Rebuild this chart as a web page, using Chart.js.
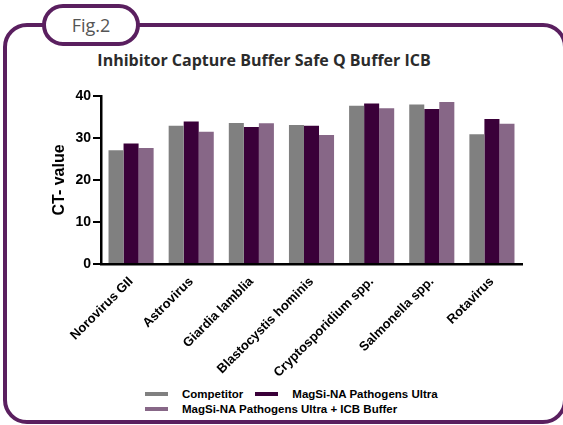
<!DOCTYPE html>
<html>
<head>
<meta charset="utf-8">
<script src="https://cdn.jsdelivr.net/npm/chart.js@4"></script>
<style>
  body { margin: 0; width: 563px; height: 425px; background: #fff; overflow: hidden; position: relative; font-family: 'Liberation Sans', Arial, sans-serif; }
  .frame { position: absolute; left: 3px; top: 23px; width: 564px; height: 401px; box-sizing: border-box; border: 4px solid #5a1f5f; border-radius: 24px; }
  .pill { position: absolute; left: 42px; top: 4px; width: 98px; height: 42px; box-sizing: border-box; border: 4px solid #5a1f5f; border-radius: 21px; background: #fff; text-align: center; line-height: 34px; font-family: 'Open Sans', sans-serif; font-size: 18px; color: #555; }
  .title { position: absolute; left: 0; width: 528px; top: 49px; text-align: center; font-family: 'Open Sans', sans-serif; font-weight: bold; font-size: 16px; color: #2b2b2b; }
  .chartBox { position: absolute; left: 0; top: 70px; width: 563px; height: 310px; }
  .legend { position: absolute; left: 145px; top: 387px; width: 330px; display: flex; flex-wrap: wrap; font-weight: bold; font-size: 11.5px; color: #000; line-height: 14.5px; white-space: nowrap; }
  .legend span.item { display: flex; align-items: center; margin-right: 12px; }
  .legend span.sw { display: inline-block; width: 23px; height: 4px; margin-right: 14px; }
</style>
</head>
<body>
<div class="frame"></div>
<div class="pill">Fig.2</div>
<div class="title">Inhibitor Capture Buffer Safe Q Buffer ICB</div>
<div class="chartBox"><canvas id="ctChart"></canvas></div>
<div class="legend" id="legend"></div>
<script>
// Categorias e valores de CT
const categories = ['Norovirus GII', 'Astrovirus', 'Giardia lamblia', 'Blastocystis hominis', 'Cryptosporidium spp.', 'Salmonella spp.', 'Rotavirus'];
const competitor = [27.1, 32.9, 33.6, 33.1, 37.7, 38.0, 30.9];
const magsiUltra = [28.7, 33.9, 32.6, 32.9, 38.2, 36.9, 34.5];
const magsiIcb = [27.6, 31.5, 33.5, 30.7, 37.1, 38.6, 33.4];
const seriesNames = ['Competitor', 'MagSi-NA Pathogens Ultra', 'MagSi-NA Pathogens Ultra + ICB Buffer'];
const seriesColors = ['#808080', '#3a0039', '#876787'];
const yTicks = [0, 10, 20, 30, 40];

const boldFont = (size) => ({ family: "'Liberation Sans', Arial, sans-serif", size: size, weight: 'bold' });

const ctx = document.getElementById('ctChart').getContext('2d');
new Chart(ctx, {
  type: 'bar',
  data: {
    labels: categories,
    datasets: [competitor, magsiUltra, magsiIcb].map((values, i) => ({
      label: seriesNames[i],
      data: values,
      backgroundColor: seriesColors[i],
      borderWidth: 0,
      categoryPercentage: 0.75,
      barPercentage: 1.0,
    })),
  },
  options: {
    responsive: true,
    maintainAspectRatio: false,
    animation: false,
    layout: { padding: { top: 26, right: 41, bottom: 0, left: 0 } },
    plugins: {
      legend: { display: false },
      tooltip: { enabled: false },
    },
    scales: {
      x: {
        afterFit: (s) => { s.height = 116; },
        grid: { display: false },
        border: { color: '#000', width: 2.5 },
        ticks: {
          autoSkip: false,
          minRotation: 45,
          maxRotation: 45,
          padding: 2,
          color: '#000',
          font: boldFont(13),
        },
      },
      y: {
        min: 0,
        max: 40,
        afterFit: (s) => { s.width = 101; },
        afterBuildTicks: (s) => { s.ticks = yTicks.map((v) => ({ value: v })); },
        grid: { drawOnChartArea: false, drawTicks: true, tickLength: 8, color: '#000', lineWidth: 2 },
        border: { color: '#000', width: 2.5 },
        ticks: { padding: 2, color: '#000', font: boldFont(14) },
        title: {
          display: true,
          text: 'CT- value',
          color: '#000',
          font: boldFont(16),
          padding: { top: 50, bottom: 0 },
        },
      },
    },
  },
});

// Legenda em HTML
const legendEl = document.getElementById('legend');
seriesNames.forEach((name, i) => {
  const item = document.createElement('span');
  item.className = 'item';
  item.innerHTML = `<span class="sw" style="background:${seriesColors[i]}"></span>${name}`;
  legendEl.appendChild(item);
});
</script>
</body>
</html>
